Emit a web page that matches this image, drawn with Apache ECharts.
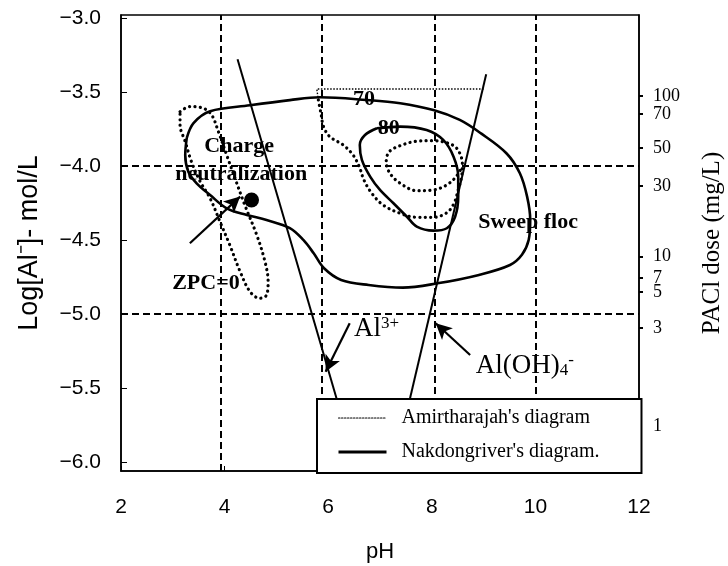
<!DOCTYPE html>
<html>
<head>
<meta charset="utf-8">
<script src="https://cdn.jsdelivr.net/npm/echarts@6/dist/echarts.min.js"></script>
<style>
  html, body { margin: 0; padding: 0; background: #fff; }
  #chart { width: 728px; height: 566px; }
</style>
</head>
<body>
<div id="chart"></div>
<script>
// Coagulation diagram: pH against log[Al] with the equivalent PACl dose on the right.

// Nakdong river, 70 % removal contour (closed)
const nakdong70 = [
  [3.27, -3.81], [3.40, -3.71], [3.72, -3.63], [4.49, -3.59], [5.26, -3.555],
  [5.84, -3.536], [6.74, -3.554], [7.39, -3.576], [8.03, -3.622], [8.54, -3.689],
  [8.95, -3.78], [9.44, -3.914], [9.70, -4.049], [9.84, -4.207], [9.90, -4.365],
  [9.87, -4.50], [9.74, -4.60], [9.51, -4.669], [8.91, -4.736], [8.11, -4.793],
  [7.44, -4.822], [6.78, -4.804], [6.25, -4.77], [5.92, -4.691], [5.72, -4.59],
  [5.52, -4.50], [5.26, -4.42], [4.81, -4.365], [4.43, -4.331], [4.04, -4.286],
  [3.72, -4.196], [3.46, -4.117], [3.30, -4.039], [3.24, -3.926], [3.27, -3.81]
];

// Nakdong river, 80 % removal contour (closed)
const nakdong80 = [
  [6.94, -3.745], [7.39, -3.734], [7.90, -3.757], [8.22, -3.824], [8.42, -3.937],
  [8.51, -4.072], [8.51, -4.207], [8.45, -4.343], [8.29, -4.421], [8.03, -4.437],
  [7.71, -4.410], [7.52, -4.343], [7.26, -4.252], [7.00, -4.162], [6.81, -4.072],
  [6.65, -3.959], [6.61, -3.858], [6.71, -3.791], [6.94, -3.745]
];

// Amirtharajah: charge-neutralization loop (closed)
const amirChargeLoop = [
  [3.14, -3.633], [3.33, -3.599], [3.59, -3.610], [3.75, -3.655], [3.88, -3.768],
  [4.04, -3.926], [4.20, -4.083], [4.39, -4.264], [4.62, -4.466], [4.78, -4.647],
  [4.84, -4.782], [4.81, -4.872], [4.68, -4.894], [4.49, -4.849], [4.30, -4.714],
  [4.10, -4.534], [3.91, -4.376], [3.72, -4.218], [3.53, -4.106], [3.36, -3.971],
  [3.24, -3.836], [3.14, -3.723], [3.14, -3.633]
];

// Amirtharajah: sweep-floc boundary, upper edge
const amirSweepEdge = [[9.00, -3.48], [5.78, -3.48], [5.81, -3.554]];

// Amirtharajah: sweep-floc contours (outer path running into the inner loop)
const amirSweep = [
  [5.81, -3.554], [5.86, -3.644], [5.91, -3.734], [6.03, -3.802], [6.29, -3.858],
  [6.48, -3.926], [6.60, -4.005], [6.69, -4.095], [6.84, -4.184], [7.06, -4.264],
  [7.39, -4.320], [7.71, -4.347], [8.03, -4.347], [8.29, -4.316], [8.43, -4.252],
  [8.51, -4.162], [8.58, -4.061], [8.59, -3.982], [8.54, -3.914], [8.45, -3.870],
  [8.29, -3.843], [8.03, -3.829], [7.71, -3.833], [7.39, -3.863], [7.18, -3.903],
  [7.12, -3.971], [7.19, -4.049], [7.39, -4.117], [7.71, -4.167], [8.03, -4.162],
  [8.29, -4.128], [8.47, -4.072], [8.58, -4.009]
];

// Solubility boundaries of Al3+ and Al(OH)4- (down to the legend box)
const al3Line = [[4.25, -3.279], [6.16, -5.57]];
const alOH4Line = [[9.05, -3.38], [7.58, -5.57]];

// Zero point of charge
const zpcPoint = [[4.52, -4.23]];

// Reference grid (pH and log[Al])
const gridPH = [3.93, 5.87, 8.06, 10.01];
const gridLogAl = [-4.0, -5.0];

// Left axis ticks
const logAlTicks = [-3.0, -3.5, -4.0, -4.5, -5.0, -5.5, -6.0];

// PACl dose axis: labels and their log[Al] positions
const doseLabels = ['100', '70', '50', '30', '10', '7', '5', '3', '1'];
const dosePositions = [-3.527, -3.649, -3.878, -4.135, -4.613, -4.757, -4.851, -5.095, -5.757];

// Pointer arrows [from, to]
const arrowPaths = [
  [[3.33, -4.522], [4.30, -4.207]],
  [[6.415, -5.063], [5.95, -5.390]],
  [[8.74, -5.277], [8.075, -5.063]]
];

// Region and contour annotations
const regionLabels = [
  { name: 'Charge', value: [4.28, -3.865] },
  { name: 'neutralization', value: [4.32, -4.057] },
  { name: 'Sweep floc', value: [9.86, -4.382] },
  { name: 'ZPC=0', value: [3.64, -4.794] },
  { name: '70', value: [6.69, -3.547] },
  { name: '80', value: [7.17, -3.743] }
];
const speciesLabels = [
  { name: '{a|Al}{sup|3+}', value: [6.50, -5.10] },
  { name: '{a|Al(OH)}{sub|4}{sup|-}', value: [8.85, -5.351] }
];

const AMIR = "Amirtharajah's diagram";
const NAK = "Nakdongriver's diagram.";
const SERIF = "'Liberation Serif', 'Times New Roman', serif";
const SANS = "'Liberation Sans', Arial, sans-serif";

const dotted = { color: '#000', width: 3.2, type: [0.1, 5.3], cap: 'round' };
const solidBlack = { color: '#000', opacity: 1 };

const chart = echarts.init(document.getElementById('chart'), null, { renderer: 'canvas' });

chart.setOption({
  animation: false,
  backgroundColor: '#fff',
  grid: {
    left: 121, top: 15, right: 89, bottom: 95,
    outerBoundsMode: 'none', containLabel: false,
    show: true, borderColor: '#000', borderWidth: 1.5, backgroundColor: 'transparent'
  },
  xAxis: {
    type: 'value', min: 2, max: 12, interval: 2,
    name: 'pH', nameLocation: 'middle', nameGap: 70,
    nameTextStyle: { fontFamily: SANS, fontSize: 22, color: '#000' },
    axisLine: { lineStyle: { color: '#000', width: 1.5 } },
    axisTick: { inside: true, length: 5, lineStyle: { color: '#000' } },
    axisLabel: { fontFamily: SANS, fontSize: 21, color: '#000', margin: 26 },
    splitLine: { show: false }
  },
  yAxis: [
    {
      type: 'value', min: -6.061, max: -2.980,
      name: 'Log[Al⁻]- mol/L', nameLocation: 'middle', nameGap: 78,
      nameTextStyle: { fontFamily: SANS, fontSize: 27, color: '#000' },
      axisLine: { lineStyle: { color: '#000', width: 1.5 } },
      axisTick: { inside: true, length: 6, customValues: logAlTicks, lineStyle: { color: '#000' } },
      axisLabel: {
        customValues: logAlTicks, fontFamily: SANS, fontSize: 21, color: '#000', margin: 20,
        formatter: v => (v < 0 ? '\u2212' : '') + Math.abs(v).toFixed(1)
      },
      splitLine: { show: false }
    },
    {
      type: 'value', min: -6.061, max: -2.980, position: 'right',
      name: 'PACl dose (mg/L)', nameLocation: 'middle', nameGap: 61, nameRotate: 90,
      nameTextStyle: { fontFamily: SERIF, fontSize: 25, color: '#000' },
      axisLine: { show: true, lineStyle: { color: '#000', width: 1.5 } },
      axisTick: { show: true, inside: false, length: 4, customValues: dosePositions.slice(0, 8), lineStyle: { color: '#000', width: 2 } },
      axisLabel: {
        customValues: dosePositions, hideOverlap: false,
        fontFamily: SERIF, fontSize: 18, lineHeight: 14, color: '#000', margin: 14,
        formatter: v => {
          const i = dosePositions.findIndex(p => Math.abs(p - v) < 1e-6);
          return i >= 0 ? doseLabels[i] : '';
        }
      },
      splitLine: { show: false }
    }
  ],
  legend: {
    left: 317, top: 399, orient: 'vertical', z: 10,
    backgroundColor: '#fff', borderColor: '#000', borderWidth: 2, borderRadius: 0,
    padding: [9, 42, 11, 20],
    itemWidth: 48, itemHeight: 14, itemGap: 14,
    selectedMode: false,
    textStyle: { fontFamily: SERIF, fontSize: 20, color: '#000', padding: [0, 0, 0, 10] },
    data: [
      { name: AMIR, itemStyle: { opacity: 0 }, lineStyle: { width: 1.2, type: [1.5, 1.5], color: '#000' } },
      { name: NAK, itemStyle: { opacity: 0 }, lineStyle: { width: 3, type: 'solid', color: '#000' } }
    ]
  },
  series: [
    {
      // reference grid lines
      type: 'line', data: [], silent: true,
      markLine: {
        silent: true, symbol: 'none', label: { show: false },
        lineStyle: { color: '#000', width: 2, type: [7, 4] },
        data: gridPH.map(v => ({ xAxis: v })).concat(gridLogAl.map(v => ({ yAxis: v })))
      }
    },
    {
      name: NAK, type: 'line', data: nakdong70, smooth: 0.35, symbol: 'none', silent: true,
      lineStyle: { color: '#000', width: 2.6 }, itemStyle: solidBlack
    },
    {
      name: NAK, type: 'line', data: nakdong80, smooth: 0.35, symbol: 'none', silent: true,
      lineStyle: { color: '#000', width: 2.6 }, itemStyle: solidBlack
    },
    {
      name: AMIR, type: 'line', data: amirChargeLoop, smooth: 0.35, symbol: 'none', silent: true,
      lineStyle: dotted, itemStyle: solidBlack
    },
    {
      name: AMIR, type: 'line', data: amirSweep, smooth: 0.35, symbol: 'none', silent: true,
      lineStyle: dotted, itemStyle: solidBlack
    },
    {
      name: AMIR, type: 'line', data: amirSweepEdge, symbol: 'none', silent: true,
      lineStyle: { color: '#000', width: 1.4, type: [1.5, 1.6] }, itemStyle: solidBlack
    },
    {
      type: 'line', data: al3Line, symbol: 'none', silent: true,
      lineStyle: { color: '#000', width: 2 }, itemStyle: solidBlack
    },
    {
      type: 'line', data: alOH4Line, symbol: 'none', silent: true,
      lineStyle: { color: '#000', width: 2 }, itemStyle: solidBlack
    },
    {
      // pointer arrows
      type: 'line', data: [], silent: true,
      markLine: {
        silent: true, symbol: ['none', 'arrow'], symbolSize: [12, 16], label: { show: false },
        itemStyle: { color: '#000' },
        lineStyle: { color: '#000', width: 2.2, type: 'solid' },
        data: arrowPaths.map(p => [{ coord: p[0] }, { coord: p[1] }])
      }
    },
    {
      type: 'scatter', data: zpcPoint, symbolSize: 15, silent: true,
      itemStyle: solidBlack
    },
    {
      type: 'scatter', data: regionLabels, symbolSize: 0, silent: true,
      itemStyle: solidBlack,
      label: {
        show: true, position: 'inside', formatter: '{b}', textBorderWidth: 0,
        fontFamily: SERIF, fontWeight: 'bold', fontSize: 22, color: '#000'
      }
    },
    {
      type: 'scatter', data: speciesLabels, symbolSize: 0, silent: true,
      itemStyle: solidBlack,
      label: {
        show: true, position: 'right', distance: 0, formatter: '{b}', textBorderWidth: 0,
        rich: {
          a: { fontFamily: SERIF, fontSize: 27, color: '#000' },
          sup: { fontFamily: SERIF, fontSize: 17, color: '#000', verticalAlign: 'top' },
          sub: { fontFamily: SERIF, fontSize: 17, color: '#000', verticalAlign: 'bottom' }
        }
      }
    }
  ]
});
</script>
</body>
</html>
